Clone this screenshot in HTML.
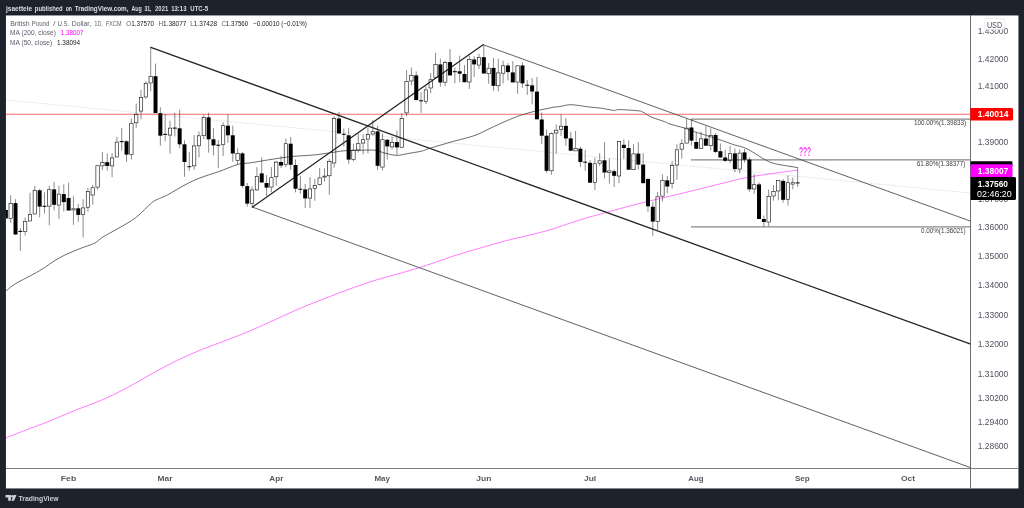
<!DOCTYPE html>
<html lang="en"><head><meta charset="utf-8"><title>GBPUSD chart</title>
<style>
html,body{margin:0;padding:0;background:#1e222d;overflow:hidden}
body{width:1024px;height:508px;position:relative;font-family:"Liberation Sans", "DejaVu Sans", sans-serif}
svg{position:absolute;left:0;top:0;display:block}
text{font-family:"Liberation Sans", "DejaVu Sans", sans-serif}
.wk{stroke:#2a2a2a;stroke-width:.55}
.bb{fill:#000}
.hb{fill:none;stroke:#111;stroke-width:.62}
.ax{fill:#50535e;font-size:8.4px}
.fib{fill:#3c3c3c;font-size:7.1px}
.lg{fill:#5d606b;font-size:7.1px}
.tm{fill:#555861;font-size:8px;font-weight:bold}
.hd{fill:#dcdfe7;font-size:7.9px;font-weight:bold}
</style></head><body>
<svg width="1024" height="508" viewBox="0 0 1024 508">
<rect x="0" y="0" width="1024" height="508" fill="#1e222d"/>
<rect x="5.75" y="15.45" width="1012.7" height="473" fill="#fff"/>
<defs><clipPath id="pane"><rect x="5.75" y="15.45" width="964.75" height="453"/></clipPath></defs>
<g clip-path="url(#pane)">
<line x1="6" y1="100" x2="970.7" y2="193" stroke="#cdcfd5" stroke-width=".7" stroke-dasharray="1.3 1.1"/>
<line x1="6" y1="114.2" x2="971" y2="114.2" stroke="#ff6b6b" stroke-width="1.1"/>
<line x1="691" y1="119.2" x2="970.7" y2="119.2" stroke="#878787" stroke-width="1.25"/>
<line x1="691" y1="159.85" x2="970.7" y2="159.85" stroke="#878787" stroke-width="1.25"/>
<line x1="691" y1="226.85" x2="970.7" y2="226.85" stroke="#878787" stroke-width="1.25"/>
<path fill="none" stroke="#444" stroke-width=".8" d="M5.9 291.1C7.53 289.85 10.12 286.98 15.7 283.6C21.28 280.22 32.17 275.07 39.4 270.8C46.63 266.53 52.55 261.62 59.1 258C65.65 254.38 72.8 251.57 78.7 249.1C84.6 246.63 90.55 245.17 94.5 243.2C98.45 241.23 98.47 239.75 102.4 237.3C106.33 234.85 112.53 231.78 118.1 228.5C123.67 225.22 130.22 221.87 135.8 217.6C141.38 213.33 147.98 205.95 151.6 202.9C155.22 199.85 154.88 200.62 157.5 199.3C160.12 197.98 162.72 197.4 167.3 195C171.88 192.6 179.58 187.73 185 184.9C190.42 182.07 194.22 180.2 199.8 178C205.38 175.8 212.12 173.98 218.5 171.7C224.88 169.42 233.52 165.7 238.1 164.3C242.68 162.9 243.37 163.63 246 163.3C248.63 162.97 250.12 162.88 253.9 162.3C257.68 161.72 263.52 160.62 268.7 159.8C273.88 158.98 280.98 157.97 285 157.4C289.02 156.83 287.9 156.82 292.8 156.4C297.7 155.98 307.83 155.55 314.4 154.9C320.97 154.25 327.27 153.18 332.2 152.5C337.13 151.82 339.37 151.17 344 150.8C348.63 150.43 354.83 150.4 360 150.3C365.17 150.2 370.87 149.73 375 150.2C379.13 150.67 381.18 152.23 384.8 153.1C388.42 153.97 392.92 155.32 396.7 155.4C400.48 155.48 403.4 154.3 407.5 153.6C411.6 152.9 417.53 152.1 421.3 151.2C425.07 150.3 424.7 149.85 430.1 148.2C435.5 146.55 446.22 143.43 453.7 141.3C461.18 139.17 468.95 137.55 475 135.4C481.05 133.25 484.22 131.05 490 128.4C495.78 125.75 503.97 121.88 509.7 119.5C515.43 117.12 519.48 115.65 524.4 114.1C529.32 112.55 534.27 111.35 539.2 110.2C544.13 109.05 550.53 107.82 554 107.2C557.47 106.58 557.4 106.92 560 106.5C562.6 106.08 566.5 104.87 569.6 104.7C572.7 104.53 575.6 105.15 578.6 105.5C581.6 105.85 583.82 106.35 587.6 106.8C591.38 107.25 596.95 107.6 601.3 108.2C605.65 108.8 610.7 110.17 613.7 110.4C616.7 110.63 615.38 109.55 619.3 109.6C623.22 109.65 633.3 110.3 637.2 110.7C641.1 111.1 640.42 110.97 642.7 112C644.98 113.03 647.23 115.28 650.9 116.9C654.57 118.52 661.52 120.5 664.7 121.7C667.88 122.9 666.78 123.07 670 124.1C673.22 125.13 679.9 126.63 684 127.9C688.1 129.17 691.93 130.78 694.6 131.7C697.27 132.62 695.9 132.08 700 133.4C704.1 134.72 713.4 137.67 719.2 139.6C725 141.53 730.7 143.68 734.8 145C738.9 146.32 740.85 146.35 743.8 147.5C746.75 148.65 749.08 149.93 752.5 151.9C755.92 153.87 760.87 157.42 764.3 159.3C767.73 161.18 769.98 162.22 773.1 163.2C776.22 164.18 778.88 164.47 783 165.2C787.12 165.93 795.33 167.2 797.8 167.6"/>
<path fill="none" stroke="#ff6cff" stroke-width=".9" d="M6 437.7C9.2 436.47 17.8 433.13 25.2 430.3C32.6 427.47 42 424.07 50.4 420.7C58.8 417.33 67.2 413.47 75.6 410.1C84 406.73 92.4 404.12 100.8 400.5C109.2 396.88 117.6 392.8 126 388.4C134.4 384 142.8 378.72 151.2 374.1C159.6 369.48 168 364.78 176.4 360.7C184.8 356.62 193.2 353.03 201.6 349.6C210 346.17 218.73 343.22 226.8 340.1C234.87 336.98 241.93 334.32 250 330.9C258.07 327.48 266.8 323.38 275.2 319.6C283.6 315.82 292 311.77 300.4 308.2C308.8 304.63 317.2 301.47 325.6 298.2C334 294.93 342.4 291.63 350.8 288.6C359.2 285.57 367.6 282.6 376 280C384.4 277.4 392.8 275.43 401.2 273C409.6 270.57 418 268.13 426.4 265.4C434.8 262.67 443.2 259.33 451.6 256.6C460 253.87 467.73 251.65 476.8 249C485.87 246.35 494.63 243.67 506 240.7C517.37 237.73 532.93 234.58 545 231.2C557.07 227.82 568.23 223.52 578.4 220.4C588.57 217.28 596.15 215.23 606 212.5C615.85 209.77 625.17 207.12 637.5 204C649.83 200.88 666.25 197.15 680 193.8C693.75 190.45 708.42 186.7 720 183.9C731.58 181.1 736.53 179.3 749.5 177C762.47 174.7 789.75 171.25 797.8 170.1"/>
<line x1="252.4" y1="207.1" x2="970.7" y2="467.7" stroke="#444" stroke-width=".85"/>
<line x1="483.1" y1="44.7" x2="970.7" y2="221.2" stroke="#444" stroke-width=".85"/>
<line x1="150.8" y1="47.4" x2="970.7" y2="344.2" stroke="#242424" stroke-width="1.3" stroke-linecap="round"/>
<line x1="252.4" y1="207.1" x2="483.1" y2="44.7" stroke="#242424" stroke-width="1.3" stroke-linecap="round"/>
<line class="wk" x1="5.85" y1="210" x2="5.85" y2="218.4"/>
<rect class="bb" x="3.85" y="210" width="4" height="8.4"/>
<line class="wk" x1="10.68" y1="195.3" x2="10.68" y2="203.3"/>
<line class="wk" x1="10.68" y1="218.6" x2="10.68" y2="222.8"/>
<rect class="hb" x="8.99" y="203.61" width="3.38" height="14.68"/>
<line class="wk" x1="15.51" y1="199.2" x2="15.51" y2="234.5"/>
<rect class="bb" x="13.51" y="203.1" width="4" height="31.4"/>
<line class="wk" x1="20.33" y1="228.1" x2="20.33" y2="250.8"/>
<rect class="bb" x="18.33" y="230.9" width="4" height="1"/>
<line class="wk" x1="25.16" y1="217.3" x2="25.16" y2="221.2"/>
<line class="wk" x1="25.16" y1="231.8" x2="25.16" y2="235.7"/>
<rect class="hb" x="23.47" y="221.51" width="3.38" height="9.98"/>
<line class="wk" x1="29.99" y1="192.8" x2="29.99" y2="214"/>
<rect class="hb" x="28.3" y="214.31" width="3.38" height="6.68"/>
<line class="wk" x1="34.82" y1="185.9" x2="34.82" y2="190.1"/>
<rect class="hb" x="33.13" y="190.41" width="3.38" height="23.58"/>
<line class="wk" x1="39.65" y1="188.9" x2="39.65" y2="217.4"/>
<rect class="bb" x="37.65" y="190.3" width="4" height="16.3"/>
<line class="wk" x1="44.47" y1="192.3" x2="44.47" y2="213.5"/>
<rect class="bb" x="42.47" y="205.8" width="4" height="1"/>
<line class="wk" x1="49.3" y1="185.9" x2="49.3" y2="189.4"/>
<line class="wk" x1="49.3" y1="206.4" x2="49.3" y2="225.3"/>
<rect class="hb" x="47.61" y="189.71" width="3.38" height="16.38"/>
<line class="wk" x1="54.13" y1="182" x2="54.13" y2="210.5"/>
<rect class="bb" x="52.13" y="189.4" width="4" height="15.4"/>
<line class="wk" x1="58.96" y1="185.9" x2="58.96" y2="193.8"/>
<line class="wk" x1="58.96" y1="205.4" x2="58.96" y2="218.9"/>
<rect class="hb" x="57.27" y="194.11" width="3.38" height="10.98"/>
<line class="wk" x1="63.79" y1="184.4" x2="63.79" y2="211.5"/>
<rect class="bb" x="61.79" y="194.1" width="4" height="8"/>
<line class="wk" x1="68.61" y1="182.8" x2="68.61" y2="210.5"/>
<rect class="bb" x="66.61" y="198" width="4" height="12.5"/>
<line class="wk" x1="73.44" y1="196.2" x2="73.44" y2="208.5"/>
<line class="wk" x1="73.44" y1="210.3" x2="73.44" y2="224.8"/>
<rect class="hb" x="71.75" y="208.81" width="3.38" height="1.18"/>
<line class="wk" x1="78.27" y1="204.1" x2="78.27" y2="221.8"/>
<rect class="bb" x="76.27" y="208.3" width="4" height="6.6"/>
<line class="wk" x1="83.1" y1="199.2" x2="83.1" y2="207.6"/>
<line class="wk" x1="83.1" y1="214.9" x2="83.1" y2="237.5"/>
<rect class="hb" x="81.41" y="207.91" width="3.38" height="6.68"/>
<line class="wk" x1="87.93" y1="187.9" x2="87.93" y2="191.3"/>
<line class="wk" x1="87.93" y1="207.6" x2="87.93" y2="211.5"/>
<rect class="hb" x="86.24" y="191.61" width="3.38" height="15.68"/>
<line class="wk" x1="92.75" y1="184.9" x2="92.75" y2="187.4"/>
<line class="wk" x1="92.75" y1="195.3" x2="92.75" y2="204.6"/>
<rect class="hb" x="91.06" y="187.71" width="3.38" height="7.28"/>
<line class="wk" x1="97.58" y1="187.4" x2="97.58" y2="189.8"/>
<rect class="hb" x="95.89" y="165.71" width="3.38" height="21.38"/>
<line class="wk" x1="102.41" y1="152.1" x2="102.41" y2="162.2"/>
<line class="wk" x1="102.41" y1="166.2" x2="102.41" y2="169.9"/>
<rect class="hb" x="100.72" y="162.51" width="3.38" height="3.38"/>
<line class="wk" x1="107.24" y1="153.6" x2="107.24" y2="170.6"/>
<rect class="bb" x="105.24" y="162.2" width="4" height="3.7"/>
<line class="wk" x1="112.07" y1="153.1" x2="112.07" y2="157.6"/>
<line class="wk" x1="112.07" y1="166.2" x2="112.07" y2="177.2"/>
<rect class="hb" x="110.38" y="157.91" width="3.38" height="7.98"/>
<line class="wk" x1="116.89" y1="136.9" x2="116.89" y2="141.8"/>
<rect class="hb" x="115.2" y="142.11" width="3.38" height="14.88"/>
<line class="wk" x1="121.72" y1="127.8" x2="121.72" y2="150.7"/>
<rect class="bb" x="119.72" y="141.1" width="4" height="1"/>
<line class="wk" x1="126.55" y1="140.3" x2="126.55" y2="162"/>
<rect class="bb" x="124.55" y="141.3" width="4" height="13.3"/>
<line class="wk" x1="131.38" y1="118.5" x2="131.38" y2="122.9"/>
<line class="wk" x1="131.38" y1="154.6" x2="131.38" y2="159.5"/>
<rect class="hb" x="129.69" y="123.21" width="3.38" height="31.08"/>
<line class="wk" x1="136.21" y1="103.7" x2="136.21" y2="114.2"/>
<line class="wk" x1="136.21" y1="123.1" x2="136.21" y2="127.8"/>
<rect class="hb" x="134.52" y="114.51" width="3.38" height="8.28"/>
<line class="wk" x1="141.03" y1="89.9" x2="141.03" y2="97.3"/>
<line class="wk" x1="141.03" y1="111.4" x2="141.03" y2="119.4"/>
<rect class="hb" x="139.34" y="97.61" width="3.38" height="13.48"/>
<line class="wk" x1="145.86" y1="81.3" x2="145.86" y2="83.3"/>
<line class="wk" x1="145.86" y1="97.3" x2="145.86" y2="98.8"/>
<rect class="hb" x="144.17" y="83.61" width="3.38" height="13.38"/>
<line class="wk" x1="150.69" y1="47.4" x2="150.69" y2="76.2"/>
<line class="wk" x1="150.69" y1="83.3" x2="150.69" y2="91.4"/>
<rect class="hb" x="149" y="76.51" width="3.38" height="6.48"/>
<line class="wk" x1="155.52" y1="63.6" x2="155.52" y2="113.1"/>
<rect class="bb" x="153.52" y="76.2" width="4" height="36.9"/>
<line class="wk" x1="160.35" y1="107.1" x2="160.35" y2="145.7"/>
<rect class="bb" x="158.35" y="113.2" width="4" height="22.5"/>
<line class="wk" x1="165.17" y1="114" x2="165.17" y2="141.3"/>
<rect class="bb" x="163.17" y="133.9" width="4" height="1"/>
<line class="wk" x1="170" y1="120.9" x2="170" y2="127.8"/>
<line class="wk" x1="170" y1="135.4" x2="170" y2="153.6"/>
<rect class="hb" x="168.31" y="128.11" width="3.38" height="6.98"/>
<line class="wk" x1="174.83" y1="113" x2="174.83" y2="136.4"/>
<rect class="bb" x="172.83" y="127.6" width="4" height="1"/>
<line class="wk" x1="179.66" y1="109.6" x2="179.66" y2="148.2"/>
<rect class="bb" x="177.66" y="128.3" width="4" height="16"/>
<line class="wk" x1="184.49" y1="140.3" x2="184.49" y2="176.8"/>
<rect class="bb" x="182.49" y="144.3" width="4" height="17.7"/>
<line class="wk" x1="189.31" y1="151.8" x2="189.31" y2="170.7"/>
<rect class="bb" x="187.31" y="166.2" width="4" height="1"/>
<line class="wk" x1="194.14" y1="135" x2="194.14" y2="145.6"/>
<line class="wk" x1="194.14" y1="166.2" x2="194.14" y2="169.7"/>
<rect class="hb" x="192.45" y="145.91" width="3.38" height="19.98"/>
<line class="wk" x1="198.97" y1="131.6" x2="198.97" y2="135.5"/>
<line class="wk" x1="198.97" y1="146.1" x2="198.97" y2="157.4"/>
<rect class="hb" x="197.28" y="135.81" width="3.38" height="9.98"/>
<line class="wk" x1="203.8" y1="114.8" x2="203.8" y2="117.3"/>
<line class="wk" x1="203.8" y1="136" x2="203.8" y2="139"/>
<rect class="hb" x="202.11" y="117.61" width="3.38" height="18.08"/>
<line class="wk" x1="208.63" y1="112.7" x2="208.63" y2="152.7"/>
<rect class="bb" x="206.63" y="117.3" width="4" height="22"/>
<line class="wk" x1="213.45" y1="128.1" x2="213.45" y2="155.4"/>
<rect class="bb" x="211.45" y="139.3" width="4" height="6.1"/>
<line class="wk" x1="218.28" y1="139.9" x2="218.28" y2="168.2"/>
<rect class="bb" x="216.28" y="144.7" width="4" height="1"/>
<line class="wk" x1="223.11" y1="122.2" x2="223.11" y2="125.4"/>
<line class="wk" x1="223.11" y1="144.9" x2="223.11" y2="155.9"/>
<rect class="hb" x="221.42" y="125.71" width="3.38" height="18.88"/>
<line class="wk" x1="227.94" y1="114.4" x2="227.94" y2="142.9"/>
<rect class="bb" x="225.94" y="125.7" width="4" height="9.6"/>
<line class="wk" x1="232.77" y1="125.7" x2="232.77" y2="161.8"/>
<rect class="bb" x="230.77" y="135.3" width="4" height="18.2"/>
<line class="wk" x1="237.59" y1="148.3" x2="237.59" y2="153.3"/>
<line class="wk" x1="237.59" y1="160.8" x2="237.59" y2="164.3"/>
<rect class="hb" x="235.9" y="153.61" width="3.38" height="6.88"/>
<line class="wk" x1="242.42" y1="152" x2="242.42" y2="187.9"/>
<rect class="bb" x="240.42" y="153.4" width="4" height="32.5"/>
<line class="wk" x1="247.25" y1="183" x2="247.25" y2="206.6"/>
<rect class="bb" x="245.25" y="186.1" width="4" height="17.5"/>
<line class="wk" x1="252.08" y1="186.3" x2="252.08" y2="189.7"/>
<line class="wk" x1="252.08" y1="203.6" x2="252.08" y2="207.1"/>
<rect class="hb" x="250.39" y="190.01" width="3.38" height="13.28"/>
<line class="wk" x1="256.91" y1="167.2" x2="256.91" y2="176.1"/>
<line class="wk" x1="256.91" y1="190.2" x2="256.91" y2="191"/>
<rect class="hb" x="255.22" y="176.41" width="3.38" height="13.48"/>
<line class="wk" x1="261.73" y1="157.4" x2="261.73" y2="182.5"/>
<rect class="bb" x="259.73" y="173.4" width="4" height="9.1"/>
<line class="wk" x1="266.56" y1="175.1" x2="266.56" y2="196"/>
<rect class="bb" x="264.56" y="183" width="4" height="4.6"/>
<line class="wk" x1="271.39" y1="167.2" x2="271.39" y2="177.4"/>
<line class="wk" x1="271.39" y1="187.4" x2="271.39" y2="192.3"/>
<rect class="hb" x="269.7" y="177.71" width="3.38" height="9.38"/>
<line class="wk" x1="276.22" y1="160.8" x2="276.22" y2="161.8"/>
<line class="wk" x1="276.22" y1="177.1" x2="276.22" y2="185.9"/>
<rect class="hb" x="274.53" y="162.11" width="3.38" height="14.68"/>
<line class="wk" x1="281.05" y1="155.9" x2="281.05" y2="168.2"/>
<rect class="bb" x="279.05" y="162" width="4" height="3.6"/>
<line class="wk" x1="285.87" y1="138.5" x2="285.87" y2="143.4"/>
<line class="wk" x1="285.87" y1="164.8" x2="285.87" y2="167.2"/>
<rect class="hb" x="284.18" y="143.71" width="3.38" height="20.78"/>
<line class="wk" x1="290.7" y1="137" x2="290.7" y2="169.7"/>
<rect class="bb" x="288.7" y="143.7" width="4" height="21.1"/>
<line class="wk" x1="295.53" y1="159.4" x2="295.53" y2="192.3"/>
<rect class="bb" x="293.53" y="165" width="4" height="23.7"/>
<line class="wk" x1="300.36" y1="175.6" x2="300.36" y2="193.8"/>
<rect class="bb" x="298.36" y="188.7" width="4" height="1"/>
<line class="wk" x1="305.19" y1="184" x2="305.19" y2="208.1"/>
<rect class="bb" x="303.19" y="189.4" width="4" height="9"/>
<line class="wk" x1="310.01" y1="177.1" x2="310.01" y2="188.6"/>
<line class="wk" x1="310.01" y1="198.4" x2="310.01" y2="208.1"/>
<rect class="hb" x="308.32" y="188.91" width="3.38" height="9.18"/>
<line class="wk" x1="314.84" y1="179" x2="314.84" y2="185.2"/>
<line class="wk" x1="314.84" y1="188.7" x2="314.84" y2="200.7"/>
<rect class="hb" x="313.15" y="185.51" width="3.38" height="2.88"/>
<line class="wk" x1="319.67" y1="168.2" x2="319.67" y2="177.6"/>
<line class="wk" x1="319.67" y1="184.9" x2="319.67" y2="185.4"/>
<rect class="hb" x="317.98" y="177.91" width="3.38" height="6.68"/>
<line class="wk" x1="324.5" y1="168.2" x2="324.5" y2="175.8"/>
<line class="wk" x1="324.5" y1="177.4" x2="324.5" y2="181.5"/>
<rect class="hb" x="322.81" y="176.11" width="3.38" height="0.98"/>
<line class="wk" x1="329.33" y1="158.9" x2="329.33" y2="161.3"/>
<line class="wk" x1="329.33" y1="176.1" x2="329.33" y2="194.8"/>
<rect class="hb" x="327.64" y="161.61" width="3.38" height="14.18"/>
<line class="wk" x1="334.15" y1="116.3" x2="334.15" y2="118.3"/>
<line class="wk" x1="334.15" y1="163.3" x2="334.15" y2="167.7"/>
<rect class="hb" x="332.46" y="118.61" width="3.38" height="44.38"/>
<line class="wk" x1="338.98" y1="111.9" x2="338.98" y2="133.5"/>
<rect class="bb" x="336.98" y="118.5" width="4" height="15"/>
<line class="wk" x1="343.81" y1="128.6" x2="343.81" y2="146.3"/>
<rect class="bb" x="341.81" y="133.8" width="4" height="1"/>
<line class="wk" x1="348.64" y1="128.1" x2="348.64" y2="163.8"/>
<rect class="bb" x="346.64" y="135.3" width="4" height="24.3"/>
<line class="wk" x1="353.47" y1="143.9" x2="353.47" y2="149.8"/>
<line class="wk" x1="353.47" y1="159.8" x2="353.47" y2="161.3"/>
<rect class="hb" x="351.78" y="150.11" width="3.38" height="9.38"/>
<line class="wk" x1="358.29" y1="133.5" x2="358.29" y2="143.4"/>
<line class="wk" x1="358.29" y1="150.3" x2="358.29" y2="152.5"/>
<rect class="hb" x="356.6" y="143.71" width="3.38" height="6.28"/>
<line class="wk" x1="363.12" y1="134.5" x2="363.12" y2="139.4"/>
<line class="wk" x1="363.12" y1="143.4" x2="363.12" y2="154.4"/>
<rect class="hb" x="361.43" y="139.71" width="3.38" height="3.38"/>
<line class="wk" x1="367.95" y1="127.6" x2="367.95" y2="134.3"/>
<line class="wk" x1="367.95" y1="139.4" x2="367.95" y2="153.4"/>
<rect class="hb" x="366.26" y="134.61" width="3.38" height="4.48"/>
<line class="wk" x1="372.78" y1="120.3" x2="372.78" y2="131.4"/>
<line class="wk" x1="372.78" y1="134.3" x2="372.78" y2="135.5"/>
<rect class="hb" x="371.09" y="131.71" width="3.38" height="2.28"/>
<line class="wk" x1="377.61" y1="125.7" x2="377.61" y2="169.8"/>
<rect class="bb" x="375.61" y="131.4" width="4" height="34.4"/>
<line class="wk" x1="382.43" y1="133.5" x2="382.43" y2="139.4"/>
<line class="wk" x1="382.43" y1="167.4" x2="382.43" y2="170.4"/>
<rect class="hb" x="380.74" y="139.71" width="3.38" height="27.38"/>
<line class="wk" x1="387.26" y1="139" x2="387.26" y2="159.5"/>
<rect class="bb" x="385.26" y="139.8" width="4" height="6.6"/>
<line class="wk" x1="392.09" y1="136.5" x2="392.09" y2="142.1"/>
<line class="wk" x1="392.09" y1="147.2" x2="392.09" y2="149.3"/>
<rect class="hb" x="390.4" y="142.41" width="3.38" height="4.48"/>
<line class="wk" x1="396.92" y1="130.6" x2="396.92" y2="154.8"/>
<rect class="bb" x="394.92" y="142.1" width="4" height="5.3"/>
<line class="wk" x1="401.75" y1="113.1" x2="401.75" y2="118.3"/>
<rect class="hb" x="400.06" y="118.61" width="3.38" height="28.68"/>
<line class="wk" x1="406.57" y1="70" x2="406.57" y2="81.3"/>
<line class="wk" x1="406.57" y1="113.2" x2="406.57" y2="116.3"/>
<rect class="hb" x="404.88" y="81.61" width="3.38" height="31.28"/>
<line class="wk" x1="411.4" y1="67.6" x2="411.4" y2="75.2"/>
<line class="wk" x1="411.4" y1="81.3" x2="411.4" y2="85.3"/>
<rect class="hb" x="409.71" y="75.51" width="3.38" height="5.48"/>
<line class="wk" x1="416.23" y1="71.5" x2="416.23" y2="100.1"/>
<rect class="bb" x="414.23" y="75.4" width="4" height="24.7"/>
<line class="wk" x1="421.06" y1="92.2" x2="421.06" y2="112.9"/>
<rect class="bb" x="419.06" y="100.3" width="4" height="1"/>
<line class="wk" x1="425.89" y1="86.3" x2="425.89" y2="89.6"/>
<line class="wk" x1="425.89" y1="101.6" x2="425.89" y2="104"/>
<rect class="hb" x="424.2" y="89.91" width="3.38" height="11.38"/>
<line class="wk" x1="430.71" y1="73" x2="430.71" y2="79.4"/>
<line class="wk" x1="430.71" y1="88.3" x2="430.71" y2="93.2"/>
<rect class="hb" x="429.02" y="79.71" width="3.38" height="8.28"/>
<line class="wk" x1="435.54" y1="52.8" x2="435.54" y2="64.1"/>
<rect class="hb" x="433.85" y="64.41" width="3.38" height="13.18"/>
<line class="wk" x1="440.37" y1="58.7" x2="440.37" y2="86.8"/>
<rect class="bb" x="438.37" y="64.4" width="4" height="18.1"/>
<line class="wk" x1="445.2" y1="60.7" x2="445.2" y2="62.1"/>
<line class="wk" x1="445.2" y1="82.5" x2="445.2" y2="86.3"/>
<rect class="hb" x="443.51" y="62.41" width="3.38" height="19.78"/>
<line class="wk" x1="450.03" y1="49.1" x2="450.03" y2="75.4"/>
<rect class="bb" x="448.03" y="62.1" width="4" height="13.3"/>
<line class="wk" x1="454.85" y1="67.6" x2="454.85" y2="83.3"/>
<rect class="bb" x="452.85" y="71.2" width="4" height="1"/>
<line class="wk" x1="459.68" y1="55.7" x2="459.68" y2="82.3"/>
<rect class="bb" x="457.68" y="71.3" width="4" height="2.4"/>
<line class="wk" x1="464.51" y1="65.1" x2="464.51" y2="82.3"/>
<rect class="bb" x="462.51" y="74" width="4" height="8.2"/>
<line class="wk" x1="469.34" y1="55.7" x2="469.34" y2="59.2"/>
<line class="wk" x1="469.34" y1="82.3" x2="469.34" y2="89"/>
<rect class="hb" x="467.65" y="59.51" width="3.38" height="22.48"/>
<line class="wk" x1="474.17" y1="56.2" x2="474.17" y2="76.9"/>
<rect class="bb" x="472.17" y="59.5" width="4" height="4.9"/>
<line class="wk" x1="478.99" y1="53.8" x2="478.99" y2="57.2"/>
<line class="wk" x1="478.99" y1="65.4" x2="478.99" y2="69"/>
<rect class="hb" x="477.3" y="57.51" width="3.38" height="7.58"/>
<line class="wk" x1="483.82" y1="44.9" x2="483.82" y2="73.5"/>
<rect class="bb" x="481.82" y="57.2" width="4" height="16.3"/>
<line class="wk" x1="488.65" y1="63.1" x2="488.65" y2="67.9"/>
<line class="wk" x1="488.65" y1="74" x2="488.65" y2="83.6"/>
<rect class="hb" x="486.96" y="68.21" width="3.38" height="5.48"/>
<line class="wk" x1="493.48" y1="58" x2="493.48" y2="90.8"/>
<rect class="bb" x="491.48" y="67.9" width="4" height="17.9"/>
<line class="wk" x1="498.31" y1="58.8" x2="498.31" y2="72.6"/>
<line class="wk" x1="498.31" y1="86.1" x2="498.31" y2="91.3"/>
<rect class="hb" x="496.62" y="72.91" width="3.38" height="12.88"/>
<line class="wk" x1="503.13" y1="60.7" x2="503.13" y2="65.5"/>
<line class="wk" x1="503.13" y1="73.5" x2="503.13" y2="83.4"/>
<rect class="hb" x="501.44" y="65.81" width="3.38" height="7.38"/>
<line class="wk" x1="507.96" y1="63.2" x2="507.96" y2="80.4"/>
<rect class="bb" x="505.96" y="65.5" width="4" height="6.6"/>
<line class="wk" x1="512.79" y1="61.2" x2="512.79" y2="82.4"/>
<rect class="bb" x="510.79" y="72.4" width="4" height="10"/>
<line class="wk" x1="517.62" y1="82.4" x2="517.62" y2="93.8"/>
<rect class="hb" x="515.93" y="65.81" width="3.38" height="16.28"/>
<line class="wk" x1="522.45" y1="62.5" x2="522.45" y2="87.8"/>
<rect class="bb" x="520.45" y="65.5" width="4" height="17.9"/>
<line class="wk" x1="527.27" y1="79.9" x2="527.27" y2="94.9"/>
<rect class="bb" x="525.27" y="84.7" width="4" height="1"/>
<line class="wk" x1="532.1" y1="78" x2="532.1" y2="104.3"/>
<rect class="bb" x="530.1" y="85.4" width="4" height="6.1"/>
<line class="wk" x1="536.93" y1="77" x2="536.93" y2="119.3"/>
<rect class="bb" x="534.93" y="91.6" width="4" height="27.7"/>
<line class="wk" x1="541.76" y1="112.6" x2="541.76" y2="143.8"/>
<rect class="bb" x="539.76" y="119.5" width="4" height="16.2"/>
<line class="wk" x1="546.59" y1="129.4" x2="546.59" y2="172.8"/>
<rect class="bb" x="544.59" y="135.7" width="4" height="35.1"/>
<line class="wk" x1="551.41" y1="132.3" x2="551.41" y2="133.1"/>
<line class="wk" x1="551.41" y1="171.1" x2="551.41" y2="174.8"/>
<rect class="hb" x="549.72" y="133.41" width="3.38" height="37.38"/>
<line class="wk" x1="556.24" y1="124.4" x2="556.24" y2="129.9"/>
<line class="wk" x1="556.24" y1="133.3" x2="556.24" y2="153.6"/>
<rect class="hb" x="554.55" y="130.21" width="3.38" height="2.78"/>
<line class="wk" x1="561.07" y1="114.1" x2="561.07" y2="125.9"/>
<line class="wk" x1="561.07" y1="129.7" x2="561.07" y2="135.9"/>
<rect class="hb" x="559.38" y="126.21" width="3.38" height="3.18"/>
<line class="wk" x1="565.9" y1="118.1" x2="565.9" y2="145.7"/>
<rect class="bb" x="563.9" y="125.9" width="4" height="12.5"/>
<line class="wk" x1="570.73" y1="132" x2="570.73" y2="150.7"/>
<rect class="bb" x="568.73" y="138.4" width="4" height="12.3"/>
<line class="wk" x1="575.55" y1="131" x2="575.55" y2="148.2"/>
<rect class="hb" x="573.86" y="148.51" width="3.38" height="2.38"/>
<line class="wk" x1="580.38" y1="146.7" x2="580.38" y2="166.9"/>
<rect class="bb" x="578.38" y="148.7" width="4" height="13.3"/>
<line class="wk" x1="585.21" y1="149.7" x2="585.21" y2="170.8"/>
<rect class="bb" x="583.21" y="161.7" width="4" height="1"/>
<line class="wk" x1="590.04" y1="160" x2="590.04" y2="182.7"/>
<rect class="bb" x="588.04" y="162.8" width="4" height="19.9"/>
<line class="wk" x1="594.87" y1="157.6" x2="594.87" y2="163.5"/>
<line class="wk" x1="594.87" y1="182.7" x2="594.87" y2="190.1"/>
<rect class="hb" x="593.18" y="163.81" width="3.38" height="18.58"/>
<line class="wk" x1="599.69" y1="153.1" x2="599.69" y2="160.5"/>
<line class="wk" x1="599.69" y1="163.5" x2="599.69" y2="165.9"/>
<rect class="hb" x="598" y="160.81" width="3.38" height="2.38"/>
<line class="wk" x1="604.52" y1="142.3" x2="604.52" y2="178.5"/>
<rect class="bb" x="602.52" y="160.3" width="4" height="12.2"/>
<line class="wk" x1="609.35" y1="158.5" x2="609.35" y2="170.6"/>
<line class="wk" x1="609.35" y1="172.8" x2="609.35" y2="183.7"/>
<rect class="hb" x="607.66" y="170.91" width="3.38" height="1.58"/>
<line class="wk" x1="614.18" y1="169.4" x2="614.18" y2="187.1"/>
<rect class="bb" x="612.18" y="171.2" width="4" height="4.6"/>
<line class="wk" x1="619.01" y1="176.3" x2="619.01" y2="183.2"/>
<rect class="hb" x="617.32" y="141.61" width="3.38" height="34.38"/>
<line class="wk" x1="623.83" y1="139.4" x2="623.83" y2="159"/>
<rect class="bb" x="621.83" y="144.8" width="4" height="3.2"/>
<line class="wk" x1="628.66" y1="140.5" x2="628.66" y2="169.7"/>
<rect class="bb" x="626.66" y="148" width="4" height="21.7"/>
<line class="wk" x1="633.49" y1="144.3" x2="633.49" y2="153.6"/>
<rect class="hb" x="631.8" y="153.91" width="3.38" height="15.78"/>
<line class="wk" x1="638.32" y1="142.3" x2="638.32" y2="169.4"/>
<rect class="bb" x="636.32" y="153.6" width="4" height="11"/>
<line class="wk" x1="643.15" y1="153.1" x2="643.15" y2="183.2"/>
<rect class="bb" x="641.15" y="164.6" width="4" height="18.6"/>
<line class="wk" x1="647.97" y1="177.8" x2="647.97" y2="211.7"/>
<rect class="bb" x="645.97" y="179" width="4" height="27.3"/>
<line class="wk" x1="652.8" y1="201.9" x2="652.8" y2="235.8"/>
<rect class="bb" x="650.8" y="206.8" width="4" height="14.8"/>
<line class="wk" x1="657.63" y1="192.1" x2="657.63" y2="196.5"/>
<line class="wk" x1="657.63" y1="221.6" x2="657.63" y2="229.9"/>
<rect class="hb" x="655.94" y="196.81" width="3.38" height="24.48"/>
<line class="wk" x1="662.46" y1="174.4" x2="662.46" y2="180"/>
<line class="wk" x1="662.46" y1="196.5" x2="662.46" y2="201.4"/>
<rect class="hb" x="660.77" y="180.31" width="3.38" height="15.88"/>
<line class="wk" x1="667.29" y1="176" x2="667.29" y2="193.5"/>
<rect class="bb" x="665.29" y="180.3" width="4" height="6.2"/>
<line class="wk" x1="672.11" y1="161" x2="672.11" y2="165.3"/>
<line class="wk" x1="672.11" y1="183.7" x2="672.11" y2="188.6"/>
<rect class="hb" x="670.42" y="165.61" width="3.38" height="17.78"/>
<line class="wk" x1="676.94" y1="144.2" x2="676.94" y2="149.5"/>
<line class="wk" x1="676.94" y1="165.4" x2="676.94" y2="179.8"/>
<rect class="hb" x="675.25" y="149.81" width="3.38" height="15.28"/>
<line class="wk" x1="681.77" y1="139.2" x2="681.77" y2="143.4"/>
<line class="wk" x1="681.77" y1="149.5" x2="681.77" y2="158.6"/>
<rect class="hb" x="680.08" y="143.71" width="3.38" height="5.48"/>
<line class="wk" x1="686.6" y1="118.9" x2="686.6" y2="127.8"/>
<rect class="hb" x="684.91" y="128.11" width="3.38" height="14.98"/>
<line class="wk" x1="691.43" y1="119.4" x2="691.43" y2="145.6"/>
<rect class="bb" x="689.43" y="127.5" width="4" height="13.1"/>
<line class="wk" x1="696.25" y1="132.2" x2="696.25" y2="148.8"/>
<rect class="bb" x="694.25" y="142" width="4" height="6.7"/>
<line class="wk" x1="701.08" y1="131.7" x2="701.08" y2="138.5"/>
<rect class="hb" x="699.39" y="138.81" width="3.38" height="9.78"/>
<line class="wk" x1="705.91" y1="126.3" x2="705.91" y2="145.7"/>
<rect class="bb" x="703.91" y="138.6" width="4" height="7.1"/>
<line class="wk" x1="710.74" y1="128.3" x2="710.74" y2="135"/>
<line class="wk" x1="710.74" y1="146" x2="710.74" y2="150.4"/>
<rect class="hb" x="709.05" y="135.31" width="3.38" height="10.38"/>
<line class="wk" x1="715.57" y1="133.2" x2="715.57" y2="152.9"/>
<rect class="bb" x="713.57" y="135" width="4" height="16.9"/>
<line class="wk" x1="720.39" y1="143.5" x2="720.39" y2="157.5"/>
<rect class="bb" x="718.39" y="151.2" width="4" height="6.3"/>
<line class="wk" x1="725.22" y1="149.9" x2="725.22" y2="161.8"/>
<rect class="bb" x="723.22" y="157.5" width="4" height="3.3"/>
<line class="wk" x1="730.05" y1="146" x2="730.05" y2="153.4"/>
<line class="wk" x1="730.05" y1="160.8" x2="730.05" y2="163.2"/>
<rect class="hb" x="728.36" y="153.71" width="3.38" height="6.78"/>
<line class="wk" x1="734.88" y1="148.5" x2="734.88" y2="172.1"/>
<rect class="bb" x="732.88" y="153.4" width="4" height="15.7"/>
<line class="wk" x1="739.71" y1="149.4" x2="739.71" y2="152.8"/>
<line class="wk" x1="739.71" y1="169.4" x2="739.71" y2="173.5"/>
<rect class="hb" x="738.02" y="153.11" width="3.38" height="15.98"/>
<line class="wk" x1="744.53" y1="149" x2="744.53" y2="162.5"/>
<rect class="bb" x="742.53" y="152.4" width="4" height="7.2"/>
<line class="wk" x1="749.36" y1="157.3" x2="749.36" y2="191.8"/>
<rect class="bb" x="747.36" y="159.6" width="4" height="29.7"/>
<line class="wk" x1="754.19" y1="174" x2="754.19" y2="184.4"/>
<line class="wk" x1="754.19" y1="189.3" x2="754.19" y2="193.8"/>
<rect class="hb" x="752.5" y="184.71" width="3.38" height="4.28"/>
<line class="wk" x1="759.02" y1="182.4" x2="759.02" y2="219"/>
<rect class="bb" x="757.02" y="184.4" width="4" height="34.6"/>
<line class="wk" x1="763.85" y1="215.5" x2="763.85" y2="226.8"/>
<rect class="bb" x="761.85" y="219" width="4" height="2.9"/>
<line class="wk" x1="768.67" y1="189.6" x2="768.67" y2="196.3"/>
<line class="wk" x1="768.67" y1="222.4" x2="768.67" y2="226.3"/>
<rect class="hb" x="766.98" y="196.61" width="3.38" height="25.48"/>
<line class="wk" x1="773.5" y1="185.2" x2="773.5" y2="191.1"/>
<line class="wk" x1="773.5" y1="196.3" x2="773.5" y2="200.7"/>
<rect class="hb" x="771.81" y="191.41" width="3.38" height="4.58"/>
<line class="wk" x1="778.33" y1="191.3" x2="778.33" y2="200.3"/>
<rect class="hb" x="776.64" y="180.51" width="3.38" height="10.48"/>
<line class="wk" x1="783.16" y1="179" x2="783.16" y2="202.7"/>
<rect class="bb" x="781.16" y="180.9" width="4" height="18.9"/>
<line class="wk" x1="787.99" y1="175.5" x2="787.99" y2="182.4"/>
<line class="wk" x1="787.99" y1="199.8" x2="787.99" y2="205.7"/>
<rect class="hb" x="786.3" y="182.71" width="3.38" height="16.78"/>
<line class="wk" x1="792.81" y1="177.5" x2="792.81" y2="182.4"/>
<line class="wk" x1="792.81" y1="184.4" x2="792.81" y2="189.3"/>
<rect class="hb" x="791.12" y="182.71" width="3.38" height="1.38"/>
<line class="wk" x1="797.64" y1="167.1" x2="797.64" y2="186.8"/>
<rect class="bb" x="795.64" y="182.4" width="4" height="1"/>
<text x="798.9" y="156" font-size="12px" font-weight="bold" fill="#ff38ff" textLength="12.1" lengthAdjust="spacingAndGlyphs">???</text>
</g>
<text class="fib" x="914" y="125.1" textLength="52.1" lengthAdjust="spacingAndGlyphs">100.00%(1.39833)</text>
<text class="fib" x="916.8" y="165.6" textLength="48.7" lengthAdjust="spacingAndGlyphs">61.80%(1.38377)</text>
<text class="fib" x="921.1" y="232.6" textLength="44.6" lengthAdjust="spacingAndGlyphs">0.00%(1.36021)</text>
<line x1="970.5" y1="15" x2="970.5" y2="488" stroke="#5a5a5a" stroke-width=".9"/>
<line x1="6" y1="468.5" x2="1018.2" y2="468.5" stroke="#6e6e6e" stroke-width=".9"/>
<text class="ax" x="977.7" y="33.9" textLength="30.6" lengthAdjust="spacingAndGlyphs">1.43000</text>
<text class="ax" x="977.7" y="61.5" textLength="30.6" lengthAdjust="spacingAndGlyphs">1.42000</text>
<text class="ax" x="977.7" y="89" textLength="30.6" lengthAdjust="spacingAndGlyphs">1.41000</text>
<text class="ax" x="977.7" y="144.8" textLength="30.6" lengthAdjust="spacingAndGlyphs">1.39000</text>
<text class="ax" x="977.7" y="201.9" textLength="30.6" lengthAdjust="spacingAndGlyphs">1.37000</text>
<text class="ax" x="977.7" y="230.2" textLength="30.6" lengthAdjust="spacingAndGlyphs">1.36000</text>
<text class="ax" x="977.7" y="259.1" textLength="30.6" lengthAdjust="spacingAndGlyphs">1.35000</text>
<text class="ax" x="977.7" y="288.3" textLength="30.6" lengthAdjust="spacingAndGlyphs">1.34000</text>
<text class="ax" x="977.7" y="317.5" textLength="30.6" lengthAdjust="spacingAndGlyphs">1.33000</text>
<text class="ax" x="977.7" y="347.1" textLength="30.6" lengthAdjust="spacingAndGlyphs">1.32000</text>
<text class="ax" x="977.7" y="376.8" textLength="30.6" lengthAdjust="spacingAndGlyphs">1.31000</text>
<text class="ax" x="977.7" y="400.6" textLength="30.6" lengthAdjust="spacingAndGlyphs">1.30200</text>
<text class="ax" x="977.7" y="425" textLength="30.6" lengthAdjust="spacingAndGlyphs">1.29400</text>
<text class="ax" x="977.7" y="449.3" textLength="30.6" lengthAdjust="spacingAndGlyphs">1.28600</text>
<path d="M970.3 107.9H1011.6a1.5 1.5 0 0 1 1.5 1.5V119a1.5 1.5 0 0 1-1.5 1.5H970.3Z" fill="#ff0000"/>
<text x="977.7" y="117.1" font-size="8.5px" font-weight="bold" fill="#fff" textLength="30.7" lengthAdjust="spacingAndGlyphs">1.40014</text>
<path d="M970.7 161.3H1011.3a1.2 1.2 0 0 1 1.2 1.2V166H970.7Z" fill="#000"/>
<path d="M970.7 164.2H1012.5V176.9H970.7Z" fill="#ff00ff"/>
<text x="977.8" y="173.7" font-size="8.5px" font-weight="bold" fill="#fff" textLength="30.5" lengthAdjust="spacingAndGlyphs">1.38007</text>
<path d="M970.7 176.9H1014.5a1.5 1.5 0 0 1 1.5 1.5V198.4a1.5 1.5 0 0 1-1.5 1.5H970.7Z" fill="#000"/>
<text x="977.8" y="186.6" font-size="8.5px" font-weight="bold" fill="#fff" textLength="30.2" lengthAdjust="spacingAndGlyphs">1.37560</text>
<text x="977.1" y="197.1" font-size="8.5px" fill="#fff" textLength="34.7" lengthAdjust="spacingAndGlyphs">02:46:20</text>
<rect x="984.3" y="18.5" width="20.4" height="11.1" rx="2" fill="#fff" stroke="#e0e3eb" stroke-width=".7"/>
<text x="986.9" y="27.8" font-size="8.2px" fill="#50535e" textLength="15.3" lengthAdjust="spacingAndGlyphs">USD</text>
<text class="tm" x="60.75" y="481" textLength="15.5" lengthAdjust="spacingAndGlyphs">Feb</text>
<text class="tm" x="157.6" y="481" textLength="15" lengthAdjust="spacingAndGlyphs">Mar</text>
<text class="tm" x="269.3" y="481" textLength="14" lengthAdjust="spacingAndGlyphs">Apr</text>
<text class="tm" x="374.45" y="481" textLength="15.5" lengthAdjust="spacingAndGlyphs">May</text>
<text class="tm" x="476.3" y="481" textLength="15" lengthAdjust="spacingAndGlyphs">Jun</text>
<text class="tm" x="584" y="481" textLength="12.2" lengthAdjust="spacingAndGlyphs">Jul</text>
<text class="tm" x="688.3" y="481" textLength="15.2" lengthAdjust="spacingAndGlyphs">Aug</text>
<text class="tm" x="794.9" y="481" textLength="14.8" lengthAdjust="spacingAndGlyphs">Sep</text>
<text class="tm" x="901.1" y="481" textLength="14" lengthAdjust="spacingAndGlyphs">Oct</text>
<text class="lg" x="10.2" y="25.8" textLength="19.4" lengthAdjust="spacingAndGlyphs">British</text>
<text class="lg" x="31.7" y="25.8" textLength="17.6" lengthAdjust="spacingAndGlyphs">Pound</text>
<text class="lg" x="53.3" y="25.8" textLength="2.2" lengthAdjust="spacingAndGlyphs">/</text>
<text class="lg" x="57.4" y="25.8" textLength="11.8" lengthAdjust="spacingAndGlyphs">U.S.</text>
<text class="lg" x="71.7" y="25.8" textLength="19.5" lengthAdjust="spacingAndGlyphs">Dollar,</text>
<text class="lg" x="94.6" y="25.8" textLength="8" lengthAdjust="spacingAndGlyphs">1D,</text>
<text class="lg" x="106" y="25.8" textLength="15.6" lengthAdjust="spacingAndGlyphs">FXCM</text>
<text class="lg" x="126.2" y="25.8" textLength="27.9" lengthAdjust="spacingAndGlyphs">O<tspan fill="#222">1.37570</tspan></text>
<text class="lg" x="158.4" y="25.8" textLength="28" lengthAdjust="spacingAndGlyphs">H<tspan fill="#222">1.38077</tspan></text>
<text class="lg" x="190.2" y="25.8" textLength="26.9" lengthAdjust="spacingAndGlyphs">L<tspan fill="#222">1.37428</tspan></text>
<text class="lg" x="221.4" y="25.8" textLength="26.8" lengthAdjust="spacingAndGlyphs">C<tspan fill="#222">1.37560</tspan></text>
<text class="lg" x="253" y="25.8" fill="#222" style="fill:#222" textLength="53.9" lengthAdjust="spacingAndGlyphs">−0.00010 (−0.01%)</text>
<text class="lg" x="10.1" y="35.2" textLength="45.8" lengthAdjust="spacingAndGlyphs">MA (200, close)</text>
<text class="lg" x="60.8" y="35.2" style="fill:#f0f" textLength="22.6" lengthAdjust="spacingAndGlyphs">1.38007</text>
<text class="lg" x="10.1" y="44.7" textLength="42.1" lengthAdjust="spacingAndGlyphs">MA (50, close)</text>
<text class="lg" x="57" y="44.7" style="fill:#222" textLength="23.2" lengthAdjust="spacingAndGlyphs">1.38094</text>
<rect x="0" y="0" width="5.75" height="508" fill="#1e222d"/>
<text class="hd" x="6" y="10.7" textLength="26.2" lengthAdjust="spacingAndGlyphs">jsaettele</text>
<text class="hd" x="34.8" y="10.7" textLength="27.9" lengthAdjust="spacingAndGlyphs">published</text>
<text class="hd" x="65.7" y="10.7" textLength="6.3" lengthAdjust="spacingAndGlyphs">on</text>
<text class="hd" x="74.8" y="10.7" textLength="53.7" lengthAdjust="spacingAndGlyphs">TradingView.com,</text>
<text class="hd" x="131.5" y="10.7" textLength="10.3" lengthAdjust="spacingAndGlyphs">Aug</text>
<text class="hd" x="144.4" y="10.7" textLength="7.1" lengthAdjust="spacingAndGlyphs">31,</text>
<text class="hd" x="155.1" y="10.7" textLength="13.1" lengthAdjust="spacingAndGlyphs">2021</text>
<text class="hd" x="171.2" y="10.7" textLength="15.3" lengthAdjust="spacingAndGlyphs">13:13</text>
<text class="hd" x="190.3" y="10.7" textLength="17.7" lengthAdjust="spacingAndGlyphs">UTC-5</text>
<g fill="#d1d4dc">
<path d="M5.5 494.9H10.9V500.8H8.2V497.6H5.5Z"/>
<circle cx="12.35" cy="496.2" r="1.3"/>
<path d="M13.9 494.9H16.5L14 500.8H11.3Z"/>
</g>
<text x="18.5" y="500.8" font-size="7.4px" font-weight="bold" fill="#c9ccd6" textLength="40.1" lengthAdjust="spacingAndGlyphs">TradingView</text>
</svg>
</body></html>
